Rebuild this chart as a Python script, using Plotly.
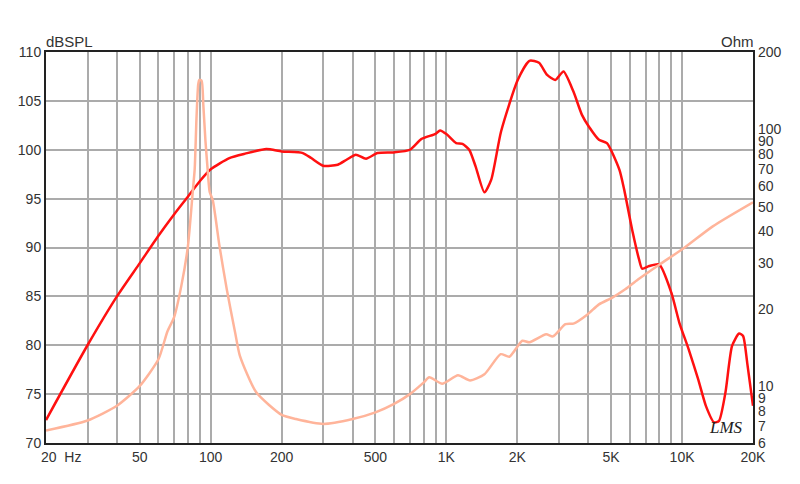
import math
import plotly.graph_objects as go

# SPL response (dB)
spl_freq = [20, 30, 40, 50, 60, 70, 80, 90, 100, 120, 140, 172, 200, 246, 267, 300, 346, 377, 413, 456,
            510, 600, 700, 782, 900, 940, 1000, 1100, 1170, 1250, 1330, 1450, 1550, 1706, 2008, 2252,
            2472, 2676, 2898, 3140, 3460, 3760, 4020, 4440, 4800, 5420, 5680, 6180, 6570, 6770, 7250,
            8000, 9000, 9740, 10660, 11700, 12620, 13680, 14350, 15280, 16300, 17460, 18150, 18900, 20000]
spl_db = [72.35, 80.0, 85.0, 88.4, 91.2, 93.4, 95.2, 96.8, 98.0, 99.15, 99.6, 100.07, 99.83, 99.66, 99.15,
          98.37, 98.47, 98.98, 99.49, 99.08, 99.66, 99.73, 100.0, 101.09, 101.63, 101.97, 101.6, 100.68,
          100.6, 100.0, 98.3, 95.64, 96.94, 101.87, 107.14, 109.1, 108.9, 107.65, 107.14, 108.0, 105.95,
          103.57, 102.38, 101.02, 100.68, 97.96, 95.92, 91.5, 88.78, 87.83, 88.1, 88.27, 85.4, 82.3, 79.6,
          76.53, 73.8, 72.1, 72.27, 75.17, 79.93, 81.2, 80.95, 78.2, 73.8]

# Impedance (Ohm)
imp_freq = [20, 30, 40, 50, 60, 65.5, 70, 75, 80, 84, 85.5, 87, 88.5, 89.5, 91.5, 93, 95, 97, 99, 102,
            109, 117, 127, 133, 156, 200, 230, 300, 400, 500, 600, 700, 800, 846, 960, 1120, 1260,
            1450, 1700, 1850, 2100, 2250, 2650, 2830, 3200, 3460, 3970, 4440, 5060, 5740, 6500, 8000,
            10200, 13500, 20000]
imp_ohm = [6.70, 7.33, 8.37, 10.0, 12.7, 16.3, 18.6, 24.5, 35, 58, 70, 110, 150, 156, 155, 125, 90, 70, 57,
           53, 35, 23.8, 16.1, 13.1, 9.44, 7.71, 7.43, 7.11, 7.43, 7.89, 8.51, 9.29, 10.3, 10.8, 10.2,
           11.0, 10.5, 11.1, 13.3, 13.0, 15.0, 14.8, 15.9, 15.6, 17.4, 17.5, 19.0, 20.8, 22.1, 23.8, 26.0,
           29.7, 34.5, 41.9, 52]

# Axis ticks
x_grid = [20, 30, 40, 50, 60, 70, 80, 90, 100, 200, 300, 400, 500, 600, 700, 800, 900,
          1000, 2000, 3000, 4000, 5000, 6000, 7000, 8000, 9000, 10000, 20000]
x_labels = {50: "50", 100: "100", 200: "200", 500: "500", 1000: "1K", 2000: "2K",
            5000: "5K", 10000: "10K", 20000: "20K"}
y_left_ticks = [70, 75, 80, 85, 90, 95, 100, 105, 110]
y_right_ticks = [6, 7, 8, 9, 10, 20, 30, 40, 50, 60, 70, 80, 90, 100, 200]

FONT = "Liberation Sans, Arial, sans-serif"
TXT = "#333333"
GRID = "#ababab"

fig = go.Figure()
fig.add_trace(go.Scatter(x=imp_freq, y=imp_ohm, yaxis="y2", mode="lines",
                         line=dict(color="#ffb49a", width=2.5, shape="spline", smoothing=0.6),
                         hoverinfo="skip"))
fig.add_trace(go.Scatter(x=spl_freq, y=spl_db, mode="lines",
                         line=dict(color="#ff1010", width=2.5, shape="spline", smoothing=0.6),
                         hoverinfo="skip"))

fig.update_layout(
    width=800, height=484,
    margin=dict(l=38, r=55, t=44, b=49, autoexpand=False),
    paper_bgcolor="white", plot_bgcolor="white",
    showlegend=False,
    font=dict(family=FONT, size=14, color=TXT),
    xaxis=dict(type="log", range=[math.log10(20), math.log10(20000)],
               tickmode="array", tickvals=x_grid,
               ticktext=[x_labels.get(v, "") for v in x_grid],
               showgrid=True, gridcolor=GRID, gridwidth=1.5,
               showline=True, mirror=True, linecolor="#222222", linewidth=2,
               ticks="", zeroline=False, tickfont=dict(size=14, color=TXT)),
    yaxis=dict(range=[70, 110], tickmode="array", tickvals=y_left_ticks,
               ticktext=[str(v) for v in y_left_ticks],
               showgrid=True, gridcolor=GRID, gridwidth=1.5,
               showline=True, mirror=True, linecolor="#222222", linewidth=2,
               ticks="", zeroline=False, tickfont=dict(size=14, color=TXT)),
    yaxis2=dict(type="log", overlaying="y", side="right",
                range=[math.log10(5.99), math.log10(200.5)],
                tickmode="array", tickvals=y_right_ticks,
                ticktext=[str(v) for v in y_right_ticks],
                showgrid=False, showline=False, ticks="", zeroline=False,
                ticklabelstandoff=4,
                tickfont=dict(size=14, color=TXT)),
    annotations=[
        dict(text="dBSPL", xref="paper", yref="paper", x=0, y=1, xanchor="left", yanchor="bottom",
             showarrow=False, font=dict(size=15, color=TXT), xshift=-2, yshift=0),
        dict(text="Ohm", xref="paper", yref="paper", x=1, y=1, xanchor="right", yanchor="bottom",
             showarrow=False, font=dict(size=15, color=TXT), xshift=3, yshift=0),
        dict(text="20  Hz", xref="paper", yref="paper", x=0, y=0, xanchor="left", yanchor="top",
             showarrow=False, font=dict(size=14, color=TXT), xshift=-7, yshift=-4),
        dict(text="<i>LMS</i>", xref="paper", yref="paper", x=0.962, y=0.04, xanchor="center",
             yanchor="middle", showarrow=False,
             font=dict(size=17, color="#222222", family="Liberation Serif, serif")),
    ],
)

fig.write_html("out.html")
